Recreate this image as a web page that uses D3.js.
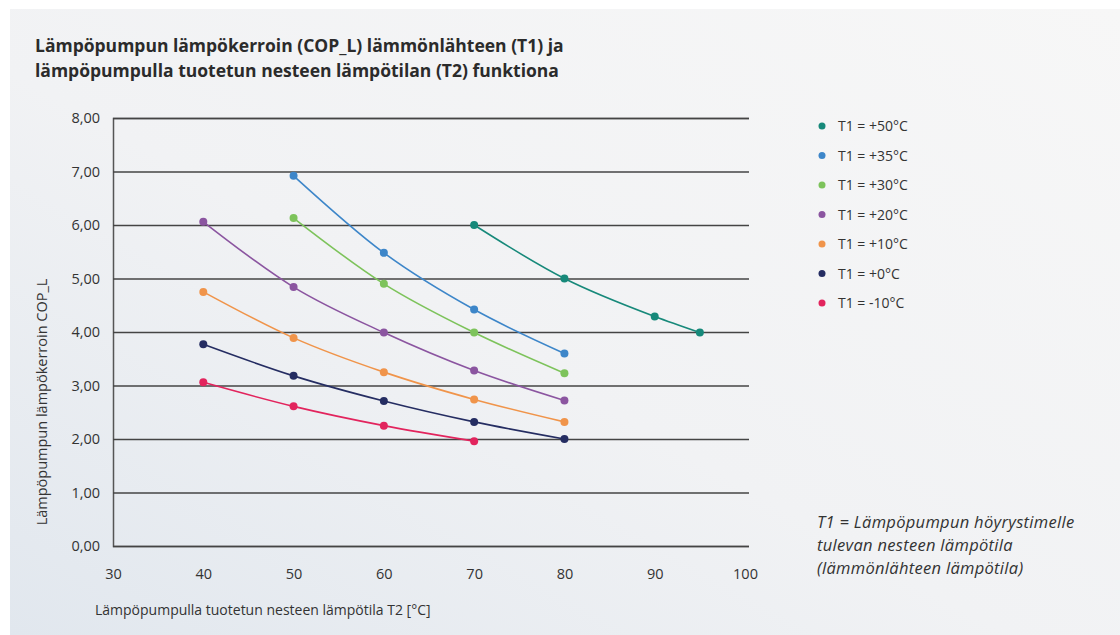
<!DOCTYPE html>
<html>
<head>
<meta charset="utf-8">
<script src="https://cdn.jsdelivr.net/npm/d3@7"></script>
<style>
html,body{margin:0;padding:0;background:#fff;}
svg{display:block;font-family:"Open Sans",sans-serif;}
</style>
</head>
<body>
<svg id="chart" width="1120" height="635"></svg>
<script>
const titleLines = ["Lämpöpumpun lämpökerroin (COP_L) lämmönlähteen (T1) ja",
                    "lämpöpumpulla tuotetun nesteen lämpötilan (T2) funktiona"];
const xTicks = [30,40,50,60,70,80,90,100];
const yTicks = [0,1,2,3,4,5,6,7,8];
const seriesNames = ["T1 = +50°C","T1 = +35°C","T1 = +30°C","T1 = +20°C","T1 = +10°C","T1 = +0°C","T1 = -10°C"];
const seriesColors = ["#17897a","#3d86c9","#7dc35b","#8b55a0","#f0944a","#252d62","#e2245d"];
const t50  = [[70,6.00],[80,5.00],[90,4.29],[95,3.99]];
const t35  = [[50,6.92],[60,5.48],[70,4.42],[80,3.60]];
const t30  = [[50,6.13],[60,4.90],[70,3.99],[80,3.23]];
const t20  = [[40,6.06],[50,4.84],[60,3.99],[70,3.28],[80,2.72]];
const t10  = [[40,4.75],[50,3.89],[60,3.25],[70,2.74],[80,2.32]];
const t0   = [[40,3.77],[50,3.18],[60,2.71],[70,2.32],[80,2.00]];
const tm10 = [[40,3.06],[50,2.61],[60,2.25],[70,1.96]];
const seriesData = [t50,t35,t30,t20,t10,t0,tm10];
const noteLines = ["T1 = Lämpöpumpun höyrystimelle","tulevan nesteen lämpötila","(lämmönlähteen lämpötila)"];
const xTitle = "Lämpöpumpulla tuotetun nesteen lämpötila T2 [°C]";
const yTitle = "Lämpöpumpun lämpökerroin COP_L";

const svg = d3.select("#chart");
const defs = svg.append("defs");
const grad = defs.append("linearGradient").attr("id","bg")
  .attr("x1","0").attr("y1","1").attr("x2","1").attr("y2","0");
grad.append("stop").attr("offset","0").attr("stop-color","#e1e7ee");
grad.append("stop").attr("offset","0.45").attr("stop-color","#f1f2f4");
grad.append("stop").attr("offset","1").attr("stop-color","#f7f7f7");
svg.append("rect").attr("x",10).attr("y",9).attr("width",1110).attr("height",626).attr("fill","url(#bg)");

const x = d3.scaleLinear().domain([30,100]).range([113,745]);
const y = d3.scaleLinear().domain([0,8]).range([546,118]);

// title
svg.append("g").selectAll("text").data(titleLines).join("text")
  .attr("x",35).attr("y",(d,i)=>52+i*25)
  .attr("font-size",17.5).attr("font-weight",700).attr("fill","#2b2b2b").text(d=>d);

// gridlines via axis
const yAxis = d3.axisLeft(y).tickValues(yTicks).tickSize(-(749-113)).tickPadding(13)
  .tickFormat(d=>d3.format(".2f")(d).replace(".",","));
const gy = svg.append("g").attr("transform","translate(113,0)").call(yAxis);
gy.select(".domain").attr("stroke","#555").attr("stroke-width",1.5);
gy.selectAll(".tick line").attr("stroke","#444").attr("stroke-width",1.6);
gy.selectAll(".tick text").attr("font-size",14.5).attr("fill","#333").attr("font-family","Open Sans, sans-serif");

const xAxis = d3.axisBottom(x).tickValues(xTicks).tickSize(0).tickPadding(23).tickFormat(d3.format("d"));
const gx = svg.append("g").attr("transform","translate(0,546)").call(xAxis);
gx.select(".domain").remove();
gx.selectAll(".tick text").attr("font-size",14.5).attr("fill","#333").attr("font-family","Open Sans, sans-serif");

// axis titles
svg.append("text").attr("x",95).attr("y",615).attr("font-size",14).attr("fill","#333").text(xTitle);
svg.append("text").attr("transform","translate(47,402) rotate(-90)").attr("text-anchor","middle")
  .attr("font-size",14.5).attr("fill","#333").text(yTitle);

// series
const line = d3.line().x(d=>x(d[0])).y(d=>y(d[1])).curve(d3.curveMonotoneX);
seriesData.forEach((s,i)=>{
  const g = svg.append("g");
  g.append("path").attr("d",line(s)).attr("fill","none").attr("stroke",seriesColors[i]).attr("stroke-width",1.6);
  g.selectAll("circle").data(s).join("circle")
    .attr("cx",d=>x(d[0])).attr("cy",d=>y(d[1])).attr("r",4).attr("fill",seriesColors[i]);
});

// legend
const lg = svg.append("g").selectAll("g").data(seriesNames).join("g")
  .attr("transform",(d,i)=>`translate(822,${126+i*29.5})`);
lg.append("circle").attr("r",3.5).attr("fill",(d,i)=>seriesColors[i]);
lg.append("text").attr("x",16).attr("y",5).attr("font-size",14).attr("fill","#333").text(d=>d);

// note
svg.append("g").selectAll("text").data(noteLines).join("text")
  .attr("x",817).attr("y",(d,i)=>528+i*23)
  .attr("font-size",16.5).attr("font-style","italic").attr("letter-spacing",0.3).attr("fill","#333").text(d=>d);
</script>
</body>
</html>
